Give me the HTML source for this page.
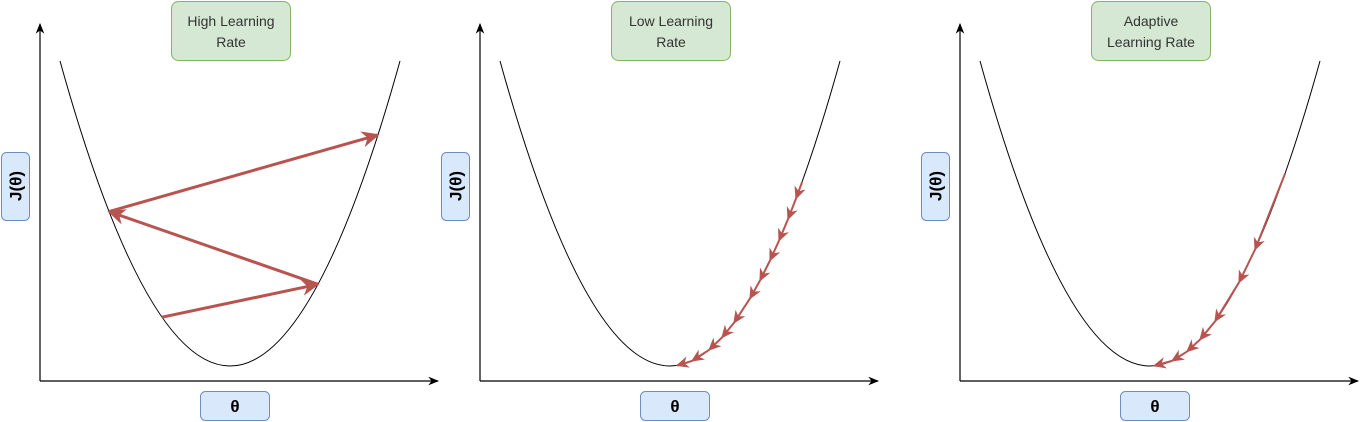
<!DOCTYPE html>
<html><head><meta charset="utf-8"><style>
html,body{margin:0;padding:0;background:#fff;}
svg{display:block;font-family:"Liberation Sans",sans-serif;}
</style></head><body>
<svg id="chart" width="1370" height="422" viewBox="0 0 1370 422" xmlns="http://www.w3.org/2000/svg">
<defs>
<marker id="ah" viewBox="0 0 10 10" refX="9" refY="5" markerWidth="6" markerHeight="6" orient="auto" markerUnits="strokeWidth">
<path d="M0,0.5 L10,5 L0,9.5 L3,5 Z" fill="#b85450"/>
</marker>
<marker id="ahs" viewBox="0 0 10 10" refX="9" refY="5" markerWidth="6.5" markerHeight="6.5" orient="auto" markerUnits="strokeWidth">
<path d="M0,0.5 L10,5 L0,9.5 L3,5 Z" fill="#b85450"/>
</marker>
<marker id="axh" viewBox="0 0 10 10" refX="9" refY="5" markerWidth="9" markerHeight="9" orient="auto" markerUnits="strokeWidth">
<path d="M0,1 L10,5 L0,9 L3,5 Z" fill="#000"/>
</marker>
</defs>
</svg>
<script>
const panelTitles = [["High Learning","Rate"],["Low Learning","Rate"],["Adaptive","Learning Rate"]];
const panelOffsets = [0, 440, 920];
// theta values (relative to curve minimum) visited in order
const highSteps = [-68, 88, -121, 148];
const lowSteps = [132, 126, 118, 109, 100, 90, 80, 64, 52, 39, 22, 7];
const adaptiveSteps = [135, 105, 89, 65, 50, 37, 22, 4];
const stepsByPanel = [highSteps, lowSteps, adaptiveSteps];

const NS = "http://www.w3.org/2000/svg";
const svg = document.getElementById('chart');
function mk(tag, attrs, parent){const e=document.createElementNS(NS,tag);for(const k in attrs)e.setAttribute(k,attrs[k]);(parent||svg).appendChild(e);return e;}

const K = 0.01055, MINY = 366, CX = 230;
function px(off, th){return off + CX + th;}
function py(th){return MINY - K*th*th;}

panelOffsets.forEach((off, i) => {
  const g = mk('g', {});
  
  
  const ya = mk('line', {x1:off+40, y1:381, x2:off+40, y2:24, stroke:'#000', 'stroke-width':1.2, 'marker-end':'url(#axh)'}, g);
  
  
  const xa = mk('line', {x1:off+40, y1:381, x2:off+438, y2:381, stroke:'#000', 'stroke-width':1.2, 'marker-end':'url(#axh)'}, g);
  
  
  const c = mk('path', {d:`M${off+60},61 Q${off+230},671 ${off+400},61`, fill:'none', stroke:'#000', 'stroke-width':1}, g);
  
  
  const tx = off + 171;
  const tb = mk('rect', {x:tx+0.5, y:1.5, width:119, height:59, rx:7, fill:'#d5e8d4', stroke:'#82b366', 'stroke-width':1}, g);
  
  
  panelTitles[i].forEach((t, j) => {
    const te = mk('text', {x:tx+60, y:26+j*21, 'text-anchor':'middle', 'font-size':14, fill:'#333'}, g);
    te.textContent = t;
    
    
  });
  const jb = mk('rect', {x:off+1.5, y:152.5, width:28, height:68, rx:5, fill:'#dae8fc', stroke:'#6c8ebf', 'stroke-width':1}, g);
  
  
  const jt = mk('text', {x:0, y:0, transform:`translate(${off+21.5},186) rotate(-90)`, 'text-anchor':'middle', 'font-size':17, 'font-weight':'bold', fill:'#000'}, g);
  jt.textContent = 'J(θ)';
  
  
  const thb = mk('rect', {x:off+200.5, y:391.5, width:69, height:29, rx:5, fill:'#dae8fc', stroke:'#6c8ebf', 'stroke-width':1}, g);
  
  
  const tht = mk('text', {x:off+235, y:412, 'text-anchor':'middle', 'font-size':17, 'font-weight':'bold', fill:'#000'}, g);
  tht.textContent = 'θ';
  
  
  const steps = stepsByPanel[i];
  const big = i === 0;
  for (let s = 0; s < steps.length - 1; s++) {
    const a = steps[s], b = steps[s+1];
    const ln = mk('line', {x1:px(off,a), y1:py(a), x2:px(off,b), y2:py(b), stroke:'#b85450', 'stroke-width': big ? 3 : 2, 'marker-end': big ? 'url(#ah)' : 'url(#ahs)'}, g);
    
    
  }
});
</script>
</body></html>
